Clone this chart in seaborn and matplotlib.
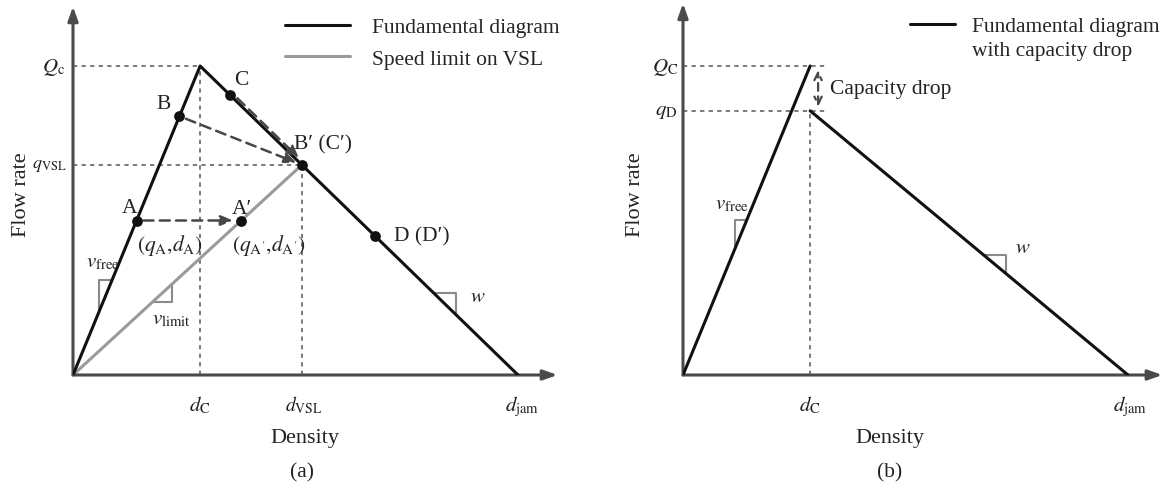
import numpy as np
import pandas as pd
import matplotlib
matplotlib.use("Agg")
import matplotlib.pyplot as plt
import matplotlib.transforms as mtransforms
from matplotlib.lines import Line2D
import seaborn as sns

# key densities / flows of the fundamental diagram
d_c, d_vsl, d_jam = 40, 72, 140
Q_c, q_vsl, q_D = 2000, 1360, 1710

# states on panel (a)
point_names = ["A", "B", "C", "B'", "A'", "D"]
point_density = [20, 33.5, 49.5, 72, 53, 95]
point_flow = [1000, 1675, 1810, 1360, 1000, 900]

W, H = 1164, 489
PX_X = 445 / 140      # pixels per density unit
PX_Y = 309 / 2000     # pixels per flow unit

BLACK = "#111111"
GREY = "#9a9a9a"
DOT = "#7a7a7a"
AXC = "#4a4a4a"
FS = 15.5

sns.set_theme(style="white")
plt.rcParams["font.family"] = ["Liberation Serif", "DejaVu Serif"]
plt.rcParams["mathtext.fontset"] = "stix"

fig = plt.figure(figsize=(W / 100, H / 100), dpi=100)


def make_axes(x0, right):
    ax = fig.add_axes([x0 / W, (H - 376) / H, (right - x0) / W, 376 / H])
    ax.set_xlim(0, (right - x0) / PX_X)
    ax.set_ylim(0, 376 / PX_Y)
    ax.axis("off")
    return ax


def axis_arrows(ax, x_end, y_end):
    for tip in [(x_end, 0), (0, y_end)]:
        ax.annotate("", xy=tip, xytext=(0, 0),
                    arrowprops=dict(arrowstyle="-|>,head_length=0.7,head_width=0.25",
                                    color=AXC, lw=2.2, shrinkA=0, shrinkB=0),
                    annotation_clip=False)


def dotted(ax, xs, ys):
    ax.plot(xs, ys, color=DOT, lw=1.4, ls=(0, (2.2, 2.2)), clip_on=False, zorder=1)


def slope_mark(ax, m, b, corner):
    xc, yc = corner
    xs = [(yc - b) / m, xc, xc]
    ys = [yc, yc, m * xc + b]
    ax.plot(xs, ys, color="#8a8a8a", lw=1.5, clip_on=False, zorder=1)


def label(ax, text, xy, dx, dy, ha="center", va="center", size=FS):
    ax.annotate(text, xy=xy, xytext=(dx, dy), textcoords="offset pixels",
                ha=ha, va=va, fontsize=size, annotation_clip=False, color="#222222")


# ---------------- panel (a) ----------------
ax1 = make_axes(73, 560)
axis_arrows(ax1, 152.4, 2385)

fd = pd.DataFrame({"density": [0, d_c, d_jam], "flow": [0, Q_c, 0]})
vsl = pd.DataFrame({"density": [0, d_vsl], "flow": [0, q_vsl]})
sns.lineplot(data=fd, x="density", y="flow", sort=False, estimator=None,
             color=BLACK, lw=2.2, ax=ax1, label="Fundamental diagram", zorder=3)
sns.lineplot(data=vsl, x="density", y="flow", sort=False, estimator=None,
             color=GREY, lw=2.2, ax=ax1, label="Speed limit on VSL", zorder=2)

dotted(ax1, [0, d_c], [Q_c, Q_c])
dotted(ax1, [d_c, d_c], [0, Q_c])
dotted(ax1, [0, d_vsl], [q_vsl, q_vsl])
dotted(ax1, [d_vsl, d_vsl], [0, q_vsl])

pts = pd.DataFrame({"name": point_names, "density": point_density, "flow": point_flow})
sns.scatterplot(data=pts, x="density", y="flow", color=BLACK, s=60,
                edgecolor=BLACK, linewidth=0, ax=ax1, zorder=5, clip_on=False)
P = {n: (d, q) for n, d, q in zip(point_names, point_density, point_flow)}

arrow_kw = dict(arrowstyle="-|>,head_length=0.6,head_width=0.25", ls=(0, (4, 2.5)),
                color="#474747", lw=1.8)
ax1.annotate("", xy=P["A'"], xytext=P["A"],
             arrowprops=dict(**arrow_kw, shrinkA=5, shrinkB=6))
ax1.annotate("", xy=P["B'"], xytext=P["B"],
             arrowprops=dict(**arrow_kw, shrinkA=5, shrinkB=4))
shift = mtransforms.offset_copy(ax1.transData, fig=fig, x=2, y=2, units="dots")
ax1.annotate("", xy=P["B'"], xytext=P["C"], xycoords=shift, textcoords=shift,
             arrowprops=dict(**arrow_kw, shrinkA=5, shrinkB=5))

label(ax1, "A", P["A"], -7, 13)
label(ax1, "B", P["B"], -16, 13)
label(ax1, "C", P["C"], 11, 16)
label(ax1, "B\u2032 (C\u2032)", P["B'"], -8, 21, ha="left")
label(ax1, "A\u2032", P["A'"], 0, 12)
label(ax1, "D (D\u2032)", P["D"], 19, 0, ha="left")
label(ax1, r"$(q_\mathrm{A}{,}d_\mathrm{A})$", P["A"], 0, -24, ha="left")
label(ax1, r"$(q_{\mathrm{A}'}{,}d_{\mathrm{A}'})$", P["A'"], -9, -24, ha="left")

slope_mark(ax1, Q_c / d_c, 0, (8.2, 615))
slope_mark(ax1, q_vsl / d_vsl, 0, (31.1, 472))
slope_mark(ax1, -Q_c / (d_jam - d_c), Q_c * d_jam / (d_jam - d_c), (120.5, 531))
label(ax1, r"$v_\mathrm{free}$", (8.2, 615), 4, 18, size=15)
label(ax1, r"$v_\mathrm{limit}$", (31.1, 472), 0, -17, size=15)
label(ax1, r"$w$", (120.5, 531), 14, -4, ha="left", size=15)

label(ax1, r"$Q_\mathrm{c}$", (0, Q_c), -8, 0, ha="right", size=15)
label(ax1, r"$q_\mathrm{VSL}$", (0, q_vsl), -6, 0, ha="right", size=13)
label(ax1, r"$d_\mathrm{C}$", (d_c, 0), 0, -29, size=15)
label(ax1, r"$d_\mathrm{VSL}$", (d_vsl, 0), 2, -29, size=14)
label(ax1, r"$d_\mathrm{jam}$", (d_jam, 0), 4, -31, size=15)

ax1.legend(loc="upper left", bbox_to_anchor=(285 / W, 1 - 18 / H),
           bbox_transform=fig.transFigure, frameon=False, fontsize=FS,
           handlelength=3.0, handletextpad=1.05, labelspacing=0.55,
           borderpad=0, borderaxespad=0)

# ---------------- panel (b) ----------------
ax2 = make_axes(683, 1164)
axis_arrows(ax2, 150.8, 2405)

free = pd.DataFrame({"density": [0, d_c], "flow": [0, Q_c]})
cong = pd.DataFrame({"density": [d_c, d_jam], "flow": [q_D, 0]})
sns.lineplot(data=free, x="density", y="flow", sort=False, estimator=None,
             color=BLACK, lw=2.2, ax=ax2, label="Fundamental diagram", zorder=3)
sns.lineplot(data=cong, x="density", y="flow", sort=False, estimator=None,
             color=BLACK, lw=2.2, ax=ax2, zorder=3)

dotted(ax2, [0, d_c + 4.7], [Q_c, Q_c])
dotted(ax2, [0, d_c + 4.7], [q_D, q_D])
dotted(ax2, [d_c, d_c], [0, q_D])

ax2.annotate("", xy=(d_c + 2.5, Q_c), xytext=(d_c + 2.5, q_D),
             arrowprops=dict(arrowstyle="<->,head_length=0.45,head_width=0.22",
                             ls=(0, (3.5, 2.5)), color="#474747", lw=1.6,
                             shrinkA=3, shrinkB=3))
label(ax2, "Capacity drop", (d_c + 2.5, (Q_c + q_D) / 2), 12, 0, ha="left")

slope_mark(ax2, Q_c / d_c, 0, (16.4, 1003))
slope_mark(ax2, -q_D / (d_jam - d_c), q_D * d_jam / (d_jam - d_c), (101.6, 777))
label(ax2, r"$v_\mathrm{free}$", (16.4, 1003), -3, 16, size=15)
label(ax2, r"$w$", (101.6, 777), 9, 7, ha="left", size=15)

label(ax2, r"$Q_\mathrm{C}$", (0, Q_c), -5, 0, ha="right", size=15)
label(ax2, r"$q_\mathrm{D}$", (0, q_D), -6, 0, ha="right", size=15)
label(ax2, r"$d_\mathrm{C}$", (d_c, 0), 0, -29, size=15)
label(ax2, r"$d_\mathrm{jam}$", (d_jam, 0), 2, -31, size=15)

handles = [Line2D([], [], color=BLACK, lw=2.2), Line2D([], [], color="none")]
ax2.legend(handles, ["Fundamental diagram", "with capacity drop"], loc="upper left",
           bbox_to_anchor=(910 / W, 1 - 17 / H), bbox_transform=fig.transFigure,
           frameon=False, fontsize=FS, handlelength=2.1, handletextpad=0.8,
           labelspacing=0.2, borderpad=0, borderaxespad=0)

# axis titles and panel tags
for xc in (22, 636):
    fig.text(xc / W, 1 - 195 / H, "Flow rate", rotation=90, ha="center", va="center",
             fontsize=FS + 0.5, color="#222222")
fig.text(305 / W, 1 - 438 / H, "Density", ha="center", va="center", fontsize=FS + 0.5, color="#222222")
fig.text(302 / W, 1 - 473 / H, "(a)", ha="center", va="center", fontsize=FS, color="#222222")
fig.text(890 / W, 1 - 438 / H, "Density", ha="center", va="center", fontsize=FS + 0.5, color="#222222")
fig.text(890 / W, 1 - 473 / H, "(b)", ha="center", va="center", fontsize=FS, color="#222222")

fig.savefig("out.png", dpi=100)
